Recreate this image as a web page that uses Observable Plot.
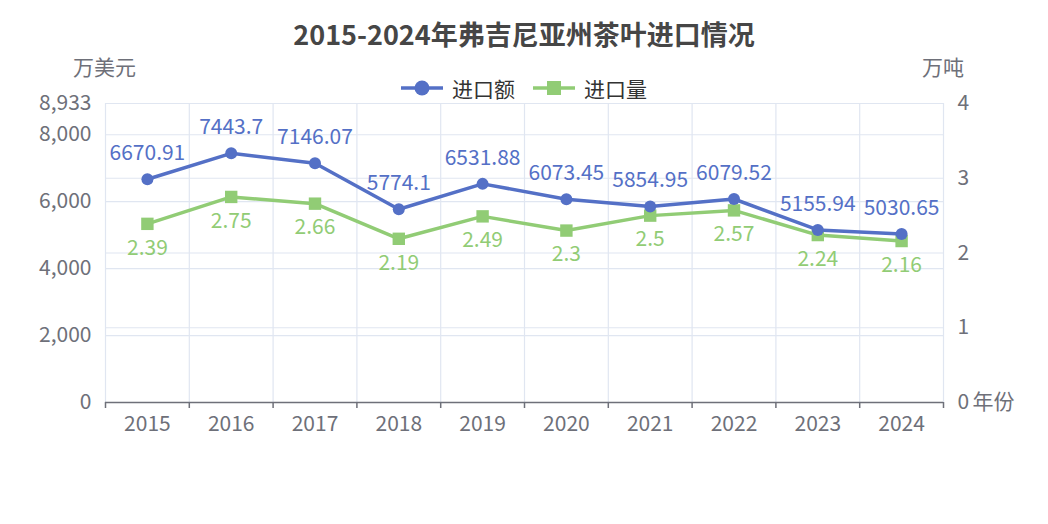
<!DOCTYPE html>
<html>
<head>
<meta charset="utf-8">
<script src="https://cdn.jsdelivr.net/npm/d3@7"></script>
<script src="https://cdn.jsdelivr.net/npm/@observablehq/plot@0.6"></script>
<style>
  body { margin: 0; background: #fff; font-family: "Noto Sans CJK SC", "Noto Sans", sans-serif; }
  #wrap { width: 1048px; height: 524px; position: relative; overflow: hidden; }
  #header { position: relative; width: 1048px; height: 96px; }
  #title { position: absolute; left: 0; width: 1048px; top: 15px; text-align: center; font-size: 27px; font-weight: bold; color: #464646; line-height: 38px; }
  .axname { position: absolute; top: 52px; font-size: 21px; color: #6E7079; line-height: 28px; }
  #legend { position: absolute; top: 74px; left: 0; width: 1048px; display: flex; justify-content: center; align-items: center; gap: 0; font-size: 21px; color: #333; line-height: 28px; }
  .item { display: flex; align-items: center; margin: 0 9px; }
  .item svg { margin-right: 9px; }
  #chart svg { overflow: visible; }
</style>
</head>
<body>
<div id="wrap">
  <div id="header">
    <div id="title">2015-2024年弗吉尼亚州茶叶进口情况</div>
    <div class="axname" style="left:73px">万美元</div>
    <div class="axname" style="left:922px">万吨</div>
    <div id="legend"></div>
  </div>
  <div id="chart"></div>
</div>
<script>
const years = [2015, 2016, 2017, 2018, 2019, 2020, 2021, 2022, 2023, 2024];
const importValue = [6670.91, 7443.7, 7146.07, 5774.1, 6531.88, 6073.45, 5854.95, 6079.52, 5155.94, 5030.65]; // 万美元
const importVolume = [2.39, 2.75, 2.66, 2.19, 2.49, 2.3, 2.5, 2.57, 2.24, 2.16]; // 万吨
const leftTicks = [0, 2000, 4000, 6000, 8000, 8933];
const rightTicks = [0, 1, 2, 3, 4];
const seriesNames = ["进口额", "进口量"];
const colors = ["#5470C6", "#91CC75"];

const leftMax = 8933, rightMax = 4;
const k = leftMax / rightMax;

// legend
const legend = document.getElementById("legend");
seriesNames.forEach((name, i) => {
  const item = document.createElement("div");
  item.className = "item";
  const sym = i === 0
    ? `<circle cx="21" cy="9" r="7.5" fill="${colors[i]}"/>`
    : `<rect x="14" y="2" width="14" height="14" fill="${colors[i]}"/>`;
  item.innerHTML = `<svg width="42" height="18"><line x1="0" x2="42" y1="9" y2="9" stroke="${colors[i]}" stroke-width="3.5"/>${sym}</svg><span>${name}</span>`;
  legend.appendChild(item);
});

const valueData = years.map((y, i) => ({year: y, v: importValue[i]}));
const volumeData = years.map((y, i) => ({year: y, v: importVolume[i], s: importVolume[i] * k}));
const boundaries = d3.range(years[0] - 0.5, years[years.length - 1] + 1, 1);
const hGrid = leftTicks.slice(1).concat(rightTicks.slice(1).map(t => t * k));

const chart = Plot.plot({
  width: 1048,
  height: 428,
  marginTop: 7,
  marginBottom: 122,
  marginLeft: 105,
  marginRight: 105,
  style: {fontSize: "21px", fontFamily: "'Noto Sans CJK SC', 'Noto Sans', sans-serif", background: "transparent", color: "#6E7079"},
  x: {type: "linear", domain: [years[0] - 0.5, years[years.length - 1] + 0.5]},
  y: {domain: [0, leftMax]},
  marks: [
    Plot.ruleY(hGrid, {stroke: "#E0E6F1", strokeWidth: 1.2}),
    Plot.ruleX(boundaries, {stroke: "#E0E6F1", strokeWidth: 1.2}),
    Plot.ruleY([0], {stroke: "#6E7079", strokeWidth: 1.5}),
    Plot.axisX({ticks: boundaries, tickFormat: () => "", tickSize: 6, stroke: "#6E7079", strokeWidth: 1.5, label: null}),
    Plot.axisX({ticks: years, tickFormat: d => String(d), tickSize: 0, tickPadding: 14, fill: "#6E7079", label: null}),
    Plot.axisY({ticks: leftTicks, tickFormat: d3.format(","), tickSize: 0, tickPadding: 14, fill: "#6E7079", label: null}),
    Plot.axisY({anchor: "right", ticks: rightTicks.map(t => t * k), tickFormat: d => String(Math.round(d / k)), tickSize: 0, tickPadding: 14, fill: "#6E7079", label: null}),
    Plot.text(["年份"], {frameAnchor: "bottom-right", dx: 29, textAnchor: "start", lineAnchor: "middle", fill: "#6E7079", fontSize: 21}),
    Plot.line(volumeData, {x: "year", y: "s", stroke: colors[1], strokeWidth: 3.5}),
    Plot.dot(volumeData, {x: "year", y: "s", symbol: "square", r: 7, fill: colors[1], stroke: "none"}),
    Plot.line(valueData, {x: "year", y: "v", stroke: colors[0], strokeWidth: 3.5}),
    Plot.dot(valueData, {x: "year", y: "v", r: 6, fill: colors[0], stroke: "none"}),
    Plot.text(valueData, {x: "year", y: "v", text: d => String(d.v), dy: -26, lineAnchor: "middle", fill: colors[0], fontSize: 21}),
    Plot.text(volumeData, {x: "year", y: "s", text: d => String(d.v), dy: 24, lineAnchor: "middle", fill: colors[1], fontSize: 21})
  ]
});
document.getElementById("chart").appendChild(chart);
</script>
</body>
</html>
